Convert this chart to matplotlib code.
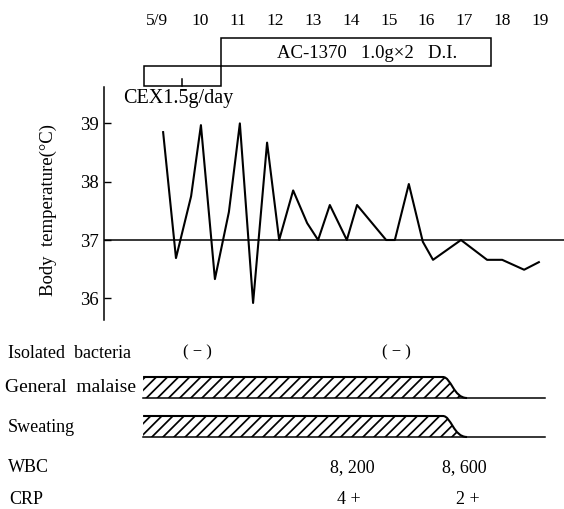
import matplotlib.pyplot as plt
import matplotlib.transforms as mtransforms
from matplotlib.path import Path
from matplotlib.patches import PathPatch, Rectangle

plt.rcParams['font.family'] = ['Liberation Serif', 'DejaVu Serif']
plt.rcParams['hatch.linewidth'] = 1.25

# days of May shown on top
days = [9, 10, 11, 12, 13, 14, 15, 16, 17, 18, 19]
day_labels = ['5/9', '10', '11', '12', '13', '14', '15', '16', '17', '18', '19']

# body temperature readings (day, deg C)
t_days = [9.03, 9.37, 9.77, 10.03, 10.40, 10.77, 11.06, 11.41, 11.78, 12.10,
          12.47, 12.84, 13.13, 13.44, 13.89, 14.16, 14.93, 15.16, 15.53, 15.90,
          16.17, 16.91, 17.60, 18.00, 18.58, 18.97]
temps = [38.85, 36.69, 37.75, 38.97, 36.33, 37.48, 39.0, 35.92, 38.67, 37.0,
         37.85, 37.29, 37.0, 37.6, 37.0, 37.6, 37.0, 37.0, 37.96, 36.97,
         36.66, 37.0, 36.66, 36.66, 36.49, 36.62]
temp_ticks = [36, 37, 38, 39]

# drug regimens (start, end)
cex_span = (8.52, 10.56)
cex_mark = 9.53
ac_span = (10.56, 17.70)

# findings
bacteria_days = [9.95, 15.19]
symptom_start = 8.50
symptom_flat_end = 16.43
symptom_end = 17.07
symptom_line_end = 19.13
wbc_days = [14.03, 16.99]
wbc_vals = ['8, 200', '8, 600']
crp_days = [13.95, 17.1]
crp_vals = ['4 +', '2 +']

fig = plt.figure(figsize=(5.64, 5.09), dpi=100)
W, H = 564, 509
left = 104 / W
ax = fig.add_axes([left, 1 - 320 / H, 1 - left, (320 - 87) / H])
ax_top = fig.add_axes([left, 1 - 87 / H, 1 - left, 87 / H], sharex=ax)
ax_bot = fig.add_axes([left, 0, 1 - left, 179 / H], sharex=ax)

ax.set_xlim(7.466, 19.635)
ax.set_ylim(35.628, 39.624)

# temperature chart
ax.plot(t_days, temps, color='black', lw=1.5)
ax.axhline(37, color='black', lw=1.1)
for s in ['top', 'right', 'bottom']:
    ax.spines[s].set_visible(False)
ax.spines['left'].set_linewidth(1.1)
ax.set_yticks(temp_ticks)
ax.tick_params(axis='y', direction='in', length=5, width=1, labelsize=13.5, pad=4)
ax.xaxis.set_visible(False)
ax.set_ylabel('Body  temperature(°C)', fontsize=13.5)
ax.yaxis.set_label_coords(-0.102, 0.472)
ax.patch.set_visible(False)

# regimens on top
ax_top.set_ylim(87, 0)
ax_top.axis('off')
for d, lab in zip(days, day_labels):
    if lab == '5/9':
        ax_top.text(d + 0.17, 21, lab, ha='right', va='center', fontsize=12.5)
    else:
        ax_top.text(d, 21, lab, ha='center', va='center', fontsize=12.5)
ax_top.add_patch(Rectangle((ac_span[0], 38), ac_span[1] - ac_span[0], 28,
                           fill=False, lw=1.1, ec='black', clip_on=False))
ax_top.add_patch(Rectangle((cex_span[0], 66), cex_span[1] - cex_span[0], 20,
                           fill=False, lw=1.1, ec='black', clip_on=False))
ax_top.plot([cex_mark, cex_mark], [79, 86], color='black', lw=1.1)
ax_top.text((ac_span[0] + ac_span[1]) / 2 + 0.3, 54, 'AC-1370   1.0g×2   D.I.',
            ha='center', va='center', fontsize=13.5)
ax_top.text(7.97, 98, 'CEX1.5g/day', ha='left', va='center', fontsize=14.5)

# findings below
ax_bot.set_ylim(509, 330)
ax_bot.axis('off')
lab_tr = mtransforms.blended_transform_factory(fig.transFigure, ax_bot.transData)
rows = [('Isolated  bacteria', 8, 353), ('General  malaise', 5, 388),
        ('Sweating', 8, 428), ('WBC', 8, 468), ('CRP', 9, 500)]
for text, xp, y in rows:
    fs = 14 if text.startswith('General') else 13
    ax_bot.text(xp / W, y, text, transform=lab_tr, ha='left', va='center', fontsize=fs)

for d in bacteria_days:
    ax_bot.text(d, 352, '( − )', ha='center', va='center', fontsize=12)


def symptom_band(y_top, y_bot):
    verts = [(symptom_start, y_bot), (symptom_start, y_top), (symptom_flat_end, y_top),
             (symptom_flat_end + 0.22, y_top), (symptom_flat_end + 0.28, y_bot),
             (symptom_end, y_bot), (symptom_start, y_bot)]
    codes = [Path.MOVETO, Path.LINETO, Path.LINETO,
             Path.CURVE4, Path.CURVE4, Path.CURVE4, Path.CLOSEPOLY]
    ax_bot.add_patch(PathPatch(Path(verts, codes), facecolor='none', edgecolor='black',
                               lw=0, hatch='///'))
    outline = Path(verts[1:6], [Path.MOVETO, Path.LINETO,
                                Path.CURVE4, Path.CURVE4, Path.CURVE4])
    ax_bot.add_patch(PathPatch(outline, facecolor='none', edgecolor='black', lw=1.5))
    ax_bot.plot([symptom_start, symptom_line_end], [y_bot, y_bot], color='black', lw=1.1)


symptom_band(377, 398)
symptom_band(416, 437)

for d, v in zip(wbc_days, wbc_vals):
    ax_bot.text(d, 468, v, ha='center', va='center', fontsize=13)
for d, v in zip(crp_days, crp_vals):
    ax_bot.text(d, 499, v, ha='center', va='center', fontsize=13)

fig.savefig('out.png', dpi=100)
